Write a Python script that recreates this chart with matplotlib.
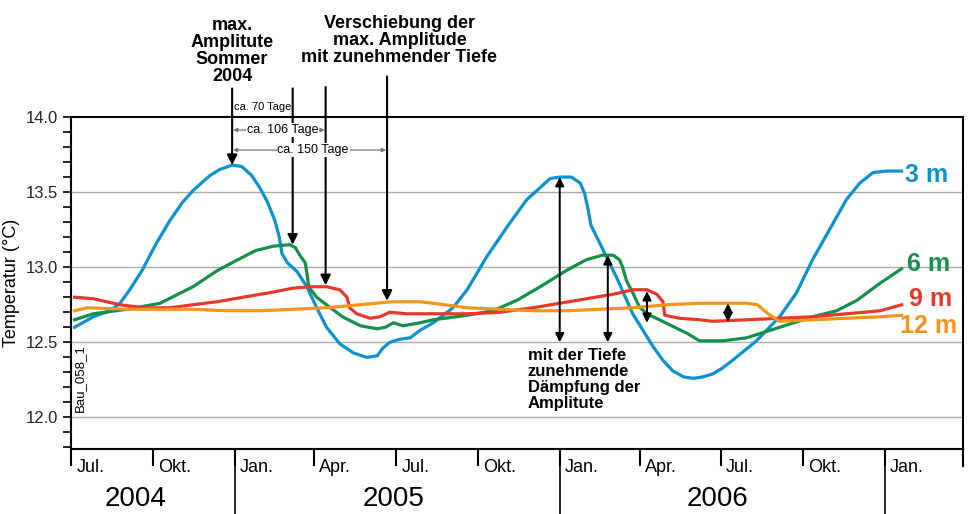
import numpy as np
import matplotlib.pyplot as plt
from matplotlib.transforms import blended_transform_factory

plt.rcParams['font.family'] = ['Liberation Sans', 'DejaVu Sans']

# days counted from 1 Jul 2004
days_3m = [4, 25, 44, 55, 66, 80, 95, 111, 125, 137, 156, 167, 181, 192, 203, 212, 221,
           229, 234, 237, 243, 254, 265, 276, 287, 302, 317, 332, 344, 350, 358, 369, 381,
           392, 407, 429, 445, 467, 490, 512, 527, 538, 549, 562, 572, 577, 581, 584, 594,
           613, 631, 654, 665, 676, 688, 699, 710, 721, 732, 743, 770, 796, 815, 833, 852,
           871, 886, 901, 916, 933]
temp_3m = [12.60, 12.67, 12.71, 12.76, 12.85, 12.98, 13.15, 13.31, 13.43, 13.51, 13.61,
           13.65, 13.68, 13.67, 13.61, 13.53, 13.43, 13.31, 13.20, 13.09, 13.03, 12.97,
           12.87, 12.73, 12.60, 12.49, 12.43, 12.40, 12.41, 12.46, 12.50, 12.52, 12.53,
           12.58, 12.63, 12.73, 12.85, 13.07, 13.27, 13.45, 13.53, 13.59, 13.60, 13.60,
           13.56, 13.49, 13.38, 13.28, 13.16, 12.93, 12.69, 12.47, 12.38, 12.31, 12.27,
           12.26, 12.27, 12.29, 12.33, 12.38, 12.51, 12.67, 12.83, 13.05, 13.25, 13.45,
           13.56, 13.63, 13.64, 13.64]

days_6m = [4, 25, 63, 100, 137, 165, 181, 207, 227, 246, 252, 257, 263, 265, 267, 276,
           287, 305, 325, 344, 353, 362, 373, 392, 407, 445, 474, 501, 527, 557, 579, 597,
           609, 616, 619, 624, 631, 639, 650, 661, 692, 706, 732, 759, 796, 833, 860, 883,
           908, 933]
temp_6m = [12.65, 12.69, 12.72, 12.76, 12.87, 12.98, 13.03, 13.11, 13.14, 13.15, 13.13,
           13.08, 13.03, 12.96, 12.87, 12.80, 12.75, 12.67, 12.61, 12.59, 12.60, 12.63,
           12.61, 12.63, 12.65, 12.68, 12.71, 12.78, 12.87, 12.98, 13.05, 13.08, 13.08,
           13.05, 13.01, 12.91, 12.83, 12.73, 12.68, 12.65, 12.56, 12.51, 12.51, 12.53,
           12.60, 12.67, 12.71, 12.78, 12.89, 12.99]

days_9m = [4, 25, 55, 81, 111, 137, 164, 193, 223, 249, 268, 287, 302, 310, 313, 321,
           336, 347, 358, 377, 392, 407, 445, 482, 519, 549, 579, 609, 631, 647, 658, 665,
           667, 684, 706, 721, 759, 796, 833, 871, 909, 933]
temp_9m = [12.80, 12.79, 12.75, 12.73, 12.73, 12.75, 12.77, 12.80, 12.83, 12.86, 12.87,
           12.87, 12.85, 12.80, 12.73, 12.69, 12.66, 12.67, 12.70, 12.69, 12.69, 12.69,
           12.69, 12.70, 12.73, 12.76, 12.79, 12.82, 12.85, 12.85, 12.82, 12.77, 12.68,
           12.66, 12.65, 12.64, 12.65, 12.66, 12.67, 12.69, 12.71, 12.75]

days_12m = [4, 18, 63, 100, 137, 174, 212, 249, 287, 324, 361, 392, 407, 445, 482, 519,
            557, 594, 631, 669, 706, 743, 759, 771, 783, 796, 833, 871, 909, 933]
temp_12m = [12.71, 12.73, 12.72, 12.72, 12.72, 12.71, 12.71, 12.72, 12.73, 12.75, 12.77,
            12.77, 12.76, 12.73, 12.72, 12.71, 12.71, 12.72, 12.73, 12.75, 12.76, 12.76,
            12.76, 12.75, 12.69, 12.64, 12.65, 12.66, 12.67, 12.68]

month_days = [0, 92, 184, 273, 365, 457, 549, 639, 730, 822, 914]
month_labels = ['Jul.', 'Okt.', 'Jan.', 'Apr.', 'Jul.', 'Okt.', 'Jan.', 'Apr.', 'Jul.',
                'Okt.', 'Jan.']
year_labels = ['2004', '2005', '2006']
year_centers = [73, 362, 726]

c3 = '#0b93cf'
c6 = '#15904a'
c9 = '#e6392b'
c12 = '#f7941d'

fig = plt.figure(figsize=(9.7, 5.14), dpi=100)
ax = fig.add_axes([0.0732, 0.1265, 0.9196, 0.6459])

ax.plot(days_3m, temp_3m, color=c3, lw=2.3, zorder=3, solid_joinstyle='round')
ax.plot(days_6m, temp_6m, color=c6, lw=2.3, zorder=3, solid_joinstyle='round')
ax.plot(days_9m, temp_9m, color=c9, lw=2.3, zorder=3, solid_joinstyle='round')
ax.plot(days_12m, temp_12m, color=c12, lw=2.3, zorder=3, solid_joinstyle='round')

ax.set_xlim(0, 1002)
ax.set_ylim(11.79, 14.0)

# y axis
ax.set_yticks([12.0, 12.5, 13.0, 13.5, 14.0])
ax.set_yticks(np.arange(11.8, 14.0, 0.1), minor=True)
ax.tick_params(axis='y', which='both', direction='out', length=6, width=1.2, labelsize=12)
ax.set_yticklabels(['12.0', '12.5', '13.0', '13.5', '14.0'], color='#222222')
ax.set_ylabel('Temperatur (°C)', fontsize=13, labelpad=4)
for g in [12.0, 12.5, 13.0, 13.5]:
    ax.axhline(g, color='#aaaaaa', lw=1, zorder=1)
for s in ax.spines.values():
    s.set_linewidth(1.5)

# x axis: months and years below
ax.set_xticks(month_days)
ax.set_xticklabels([])
ax.tick_params(axis='x', direction='out', length=12, width=1.5)
trans = blended_transform_factory(ax.transData, ax.transAxes)
for d, lab in zip(month_days, month_labels):
    ax.text(d + 6, -0.057, lab, transform=trans, fontsize=13, va='center', ha='left')
    if lab == 'Jan.':
        ax.plot([d, d], [0, -0.2], transform=trans, color='black', lw=1.2, clip_on=False)
ax.plot([1002, 1002], [0, -0.05], transform=trans, color='black', lw=1.5, clip_on=False)
for yl, yc in zip(year_labels, year_centers):
    ax.text(yc, -0.151, yl, transform=trans, fontsize=20, ha='center', va='center')

ax.text(10, 12.49, 'Bau_058_1', rotation=90, fontsize=9.5, va='top', ha='center')

# depth labels
ax.text(937, 13.613, '3 m', color=c3, fontsize=18, fontweight='bold', va='center')
ax.text(939, 13.02, '6 m', color=c6, fontsize=18, fontweight='bold', va='center')
ax.text(941, 12.787, '9 m', color=c9, fontsize=18, fontweight='bold', va='center')
ax.text(931, 12.607, '12 m', color=c12, fontsize=18, fontweight='bold', va='center')

# top annotations
peak_day = days_3m[int(np.argmax(temp_3m[:30]))]
ax.annotate('', xy=(peak_day, max(temp_3m[:30])), xytext=(peak_day, 14.19),
            arrowprops=dict(arrowstyle='-|>', color='black', lw=1.5, mutation_scale=15,
                            shrinkA=0, shrinkB=0),
            annotation_clip=False)
ax.text(peak_day, 14.215, 'max.\nAmplitute\nSommer\n2004', ha='center', va='bottom',
        fontsize=13, fontweight='bold', linespacing=1.0)

shift_days = [249, 286, 355]
shift_curves = [(days_6m, temp_6m), (days_9m, temp_9m), (days_12m, temp_12m)]
shift_tops = [14.19, 14.2, 14.27]
for d, (dx, ty), top in zip(shift_days, shift_curves, shift_tops):
    ax.annotate('', xy=(d, np.interp(d, dx, ty) + 0.01), xytext=(d, top),
                arrowprops=dict(arrowstyle='-|>', color='black', lw=1.5, mutation_scale=15,
                                shrinkA=0, shrinkB=0),
                annotation_clip=False)
ax.text(369, 14.34, 'Verschiebung der\nmax. Amplitude\nmit zunehmender Tiefe',
        ha='center', va='bottom', fontsize=13, fontweight='bold', linespacing=1.0)

ax.text(peak_day + 2, 14.067, 'ca. 70 Tage', fontsize=8, va='center', ha='left')
dims = [(286, 13.913, 'ca. 106 Tage'), (355, 13.78, 'ca. 150 Tage')]
for d, yv, lab in dims:
    ax.annotate('', xy=(peak_day + 1, yv), xytext=(d - 1, yv),
                arrowprops=dict(arrowstyle='<|-|>', color='#777777', lw=0.9,
                                mutation_scale=6, shrinkA=0, shrinkB=0))
    ax.text((peak_day + d) / 2 + 4, yv, lab, fontsize=9, ha='center', va='center',
            bbox=dict(facecolor='white', edgecolor='none', pad=0.5))

# damping arrows
damp = [(549, 13.60, 12.50), (603, 13.08, 12.50), (647, 12.84, 12.63), (738, 12.76, 12.635)]
for d, hi, lo in damp:
    ax.annotate('', xy=(d, hi), xytext=(d, lo),
                arrowprops=dict(arrowstyle='<|-|>', color='black', lw=1.4,
                                mutation_scale=13, shrinkA=0, shrinkB=0), zorder=5)
ax.text(513, 12.465, 'mit der Tiefe\nzunehmende\nDämpfung der\nAmplitute',
        fontsize=12, fontweight='bold', va='top', ha='left', linespacing=1.1)

plt.savefig('out.png', dpi=100)
